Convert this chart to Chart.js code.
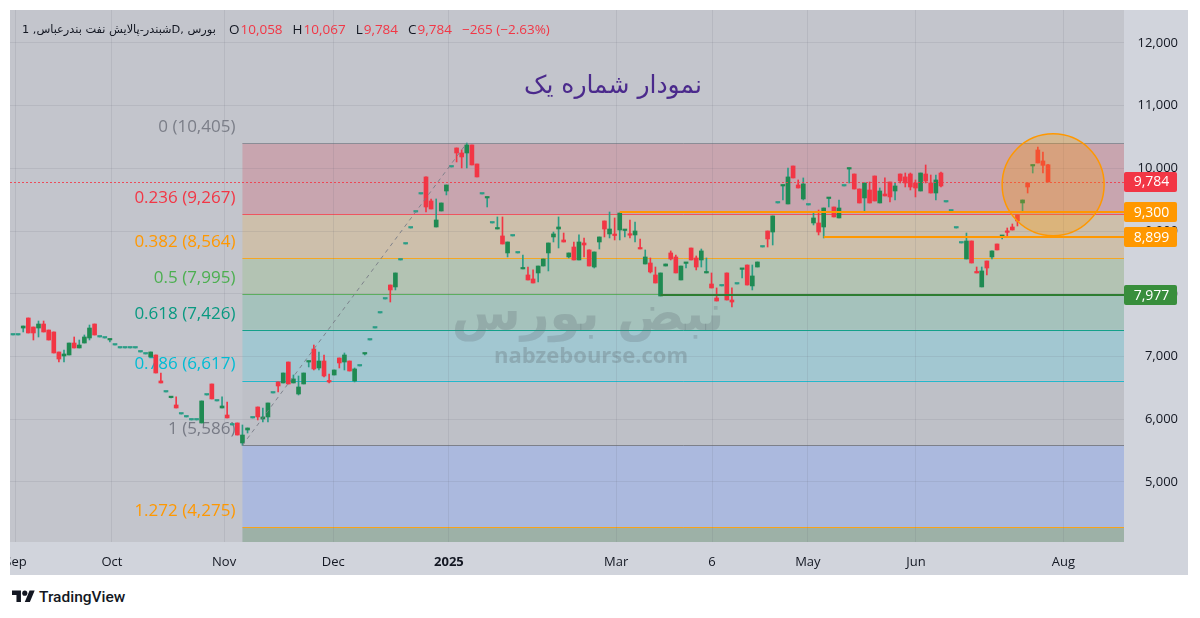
<!DOCTYPE html>
<html>
<head>
<meta charset="utf-8">
<script src="https://cdn.jsdelivr.net/npm/chart.js@4.4.1/dist/chart.umd.min.js"></script>
<style>
  body { margin: 0; background: #ffffff; width: 1200px; height: 618px; position: relative; overflow: hidden; }
  #wrap { position: absolute; left: 10px; top: 10px; width: 1178px; height: 565px; background: #d1d4dc; }
  #brand { position: absolute; left: 12px; top: 588px; height: 18px; display: flex; align-items: center; gap: 4px;
           color: #131722; font: 500 15.5px Roboto, sans-serif; }
</style>
</head>
<body>
<div id="wrap"><canvas id="chart" width="1168" height="565"></canvas></div>
<div id="brand">
  <svg width="23" height="18" viewBox="0 0 36 28"><path d="M14 22H7V11H0V4h14v18zM28 22h-8l7.5-18h8L28 22z" fill="#131722"/><circle cx="20" cy="8" r="4" fill="#131722"/></svg>
  <span>TradingView</span>
</div>
<script>
// daily candles, 1D
const opens = [7344,7344,7455,7615,7471,7455,7519,7423,7392,7073,
  7009,7025,7216,7137,7216,7296,7519,7312,7296,7265,
  7184,7137,7137,7137,7137,7073,7041,6993,7025,6611,
  6435,6345,6228,6084,6037,5989,5989,5941,6387,6563,
  6292,6180,6068,5909,5941,5622,5829,6021,6196,6005,
  6037,6419,6595,6579,6913,6579,6403,6563,6913,7121,
  6818,6929,6611,6706,6977,6913,6929,6611,6850,7041,
  7264,7455,7695,7918,8141,8110,8540,8795,9050,9305,
  9592,9864,9481,9066,9321,9640,10023,10326,10246,10246,
  10374,10071,9592,9529,9130,9034,8923,8652,8923,8652,
  8397,8301,8237,8333,8444,8652,8907,9034,8859,8588,
  8747,8540,8811,8700,8428,8827,9162,8955,8939,9018,
  9010,8939,8939,8731,8476,8492,8301,7966,8444,8652,
  8588,8221,8485,8731,8572,8540,8333,8157,7934,8126,
  8333,7902,8157,8390,8460,8126,8428,8747,9002,8986,
  9449,9720,9433,10039,9736,9513,9417,9130,9130,9066,
  9520,9385,9210,9720,9990,9911,9672,9529,9656,9879,
  9449,9592,9784,9640,9911,9864,9911,9768,9640,9911,
  9768,9608,9927,9465,9321,9050,8811,8556,8843,8349,
  8110,8524,8588,8795,8915,8986,9066,9258,9449,9768,
  10039,10294,10119,10058];
const highs = [7344,7344,7487,7615,7471,7567,7567,7423,7392,7073,
  7105,7216,7312,7264,7344,7503,7519,7312,7296,7280,
  7184,7137,7137,7137,7137,7073,7041,7073,7025,6738,
  6435,6356,6356,6084,6037,5989,5989,6292,6387,6563,
  6292,6356,6276,5909,5941,5909,5861,6021,6196,6180,
  6260,6419,6595,6738,6913,6706,6690,6738,6929,7184,
  7073,7025,6722,6786,6977,7057,6929,6818,6850,7057,
  7264,7455,7695,7918,8141,8333,8540,8795,9050,9305,
  9592,9864,9513,9513,9449,9736,10023,10326,10294,10405,
  10374,10071,9592,9545,9130,9226,9226,8827,8923,8652,
  8620,8428,8381,8444,8556,8811,8986,9226,8970,8652,
  8827,8939,8891,8700,8668,8907,9162,9305,9210,9289,
  9018,9178,9146,8875,8700,8572,8428,8333,8476,8684,
  8620,8444,8492,8731,8604,8715,8572,8333,8094,8126,
  8333,8094,8157,8397,8460,8460,8508,8747,9002,9242,
  9449,9736,10007,10039,9816,9848,9417,9289,9337,9369,
  9529,9385,9497,9720,10007,9911,9672,9768,9784,9879,
  9688,9848,9784,9768,9911,9927,9927,9816,9927,10055,
  9895,9895,9943,9465,9321,9050,8811,8970,8843,8428,
  8428,8524,8684,8795,8923,9050,9114,9258,9497,9768,
  10055,10342,10262,10067];
const lows = [7344,7344,7392,7376,7264,7312,7392,7264,7057,6913,
  6913,7025,7137,7137,7216,7264,7344,7312,7296,7232,
  7184,7137,7137,7137,7137,7073,7041,6993,6738,6579,
  6435,6340,6180,6084,6037,5989,5989,5941,6387,6324,
  6292,6180,6021,5909,5749,5586,5781,6021,5989,5957,
  5957,6419,6435,6579,6563,6579,6387,6563,6834,6786,
  6786,6674,6579,6706,6818,6786,6770,6595,6850,7025,
  7264,7455,7695,7918,7870,8062,8540,8795,9050,9305,
  9592,9305,9353,9066,9321,9577,10023,10103,10007,10007,
  10055,9864,9592,9385,9130,9034,8795,8588,8923,8652,
  8397,8221,8173,8189,8444,8365,8827,8731,8827,8572,
  8540,8540,8588,8444,8412,8715,8907,8891,8859,8859,
  8907,8891,8827,8715,8476,8333,8173,7966,8444,8540,
  8333,8221,8412,8540,8381,8428,8333,8094,7886,8126,
  7902,7790,8157,8253,8141,8062,8428,8747,8747,8779,
  9449,9497,9433,9848,9688,9497,9417,9098,8939,8891,
  9385,9226,9210,9720,9768,9672,9449,9305,9449,9481,
  9449,9561,9465,9497,9768,9704,9656,9545,9640,9768,
  9608,9497,9704,9465,9321,9050,8811,8556,8492,8333,
  8110,8301,8556,8700,8875,8907,9018,9082,9321,9608,
  9927,10087,9927,9784];
const closes = [7344,7344,7487,7376,7376,7519,7392,7264,7057,6961,
  7041,7216,7137,7184,7312,7455,7344,7312,7296,7280,
  7184,7137,7137,7137,7137,7073,7041,7073,6738,6579,
  6435,6356,6180,6084,6037,5989,5989,6292,6387,6324,
  6292,6212,6021,5909,5749,5749,5861,6021,6037,6037,
  6260,6419,6531,6738,6563,6643,6515,6738,6929,6802,
  6929,6690,6595,6786,6898,7025,6770,6802,6850,7057,
  7264,7455,7695,7918,8062,8333,8540,8795,9050,9305,
  9592,9385,9353,9178,9449,9736,10023,10246,10183,10374,
  10055,9864,9592,9545,9130,9050,8795,8827,8923,8652,
  8412,8221,8173,8444,8556,8811,8955,9066,8827,8652,
  8540,8827,8779,8444,8668,8907,9034,9034,8930,9289,
  9018,8935,9002,8715,8588,8349,8173,8333,8476,8556,
  8333,8444,8492,8540,8428,8684,8349,8094,7886,8126,
  7902,7870,8157,8397,8141,8285,8508,8747,8875,9242,
  9449,9736,9864,9848,9688,9752,9417,9210,8986,9369,
  9529,9226,9369,9720,10007,9672,9449,9768,9449,9481,
  9640,9561,9545,9720,9800,9768,9704,9688,9927,9800,
  9608,9816,9720,9465,9321,9050,8811,8843,8492,8333,
  8365,8412,8684,8700,8923,8980,9018,9162,9497,9704,
  10055,10087,10049,9784];
const candleIdx = opens.map((_, i) => i);

const timeTickIdx = [0.5, 19.4, 41.4, 62.8, 85.5, 118.3, 137.1, 155.9, 177.1, 206];
const timeTickLabels = ['Sep', 'Oct', 'Nov', 'Dec', '2025', 'Mar', '6', 'May', 'Jun', 'Aug'];
const priceTicks = [5000, 6000, 7000, 8000, 9000, 10000, 11000, 12000];

// fibonacci retracement anchors (low candle -> high candle)
const fibLowIdx = 45, fibLow = 5586;
const fibHighIdx = 89, fibHigh = 10405;
const fibLevels = [0, 0.236, 0.382, 0.5, 0.618, 0.786, 1, 1.272];

// horizontal levels drawn by hand
const levelPrices = [9300, 8899, 7977];
const levelStartIdx = [119, 159, 127];
const lastPrice = 9784;

// highlight circle
const circleCenterIdx = 204, circleCenterPrice = 9740, circleEdgeIdx = 194;

const fibLineColors = ['#8a8d96', '#ee5560', '#f5a623', '#5cae5f', '#14a08a', '#23b8cc', '#7d808a', '#f7a21b'];
const fibTextColors = ['#7b7e88', '#f23645', '#ff9800', '#4caf50', '#089981', '#00bcd4', '#787b86', '#ff9800'];
const fibZoneColors = ['#c8a5af', '#cdbfab', '#b3c3b3', '#a5c2bc', '#a2c7d1', '#bec0c7', '#abb9de', '#9db1a7'];
const levelColors = ['#ff9800', '#ff9800', '#2e7d32'];
const boxColors = ['#f23645', '#ff9800', '#ff9800', '#388e3c'];

const upBody = '#1f8a52', upFlat = '#2a9d86', downBody = '#f23645';

function fibPrice(r) { return fibHigh - r * (fibHigh - fibLow); }
function fmt(v) { return v.toLocaleString('en-US'); }

const tvPlugin = {
    id: 'tvDraw',
    beforeDraw(chart) {
        const { ctx, chartArea: a } = chart;
        const xs = chart.scales.x, ys = chart.scales.y;
        ctx.save();
        ctx.fillStyle = '#d1d4dc';
        ctx.fillRect(0, 0, chart.width, chart.height);
        ctx.fillStyle = '#c3c5cc';
        ctx.fillRect(a.left, a.top, a.width, a.height);
        ctx.beginPath();
        ctx.rect(a.left, a.top, a.width, a.height);
        ctx.clip();
        const x0 = xs.getPixelForValue(fibLowIdx);
        const ps = fibLevels.map(fibPrice);
        ps.forEach((p, i) => {
            const t = ys.getPixelForValue(p);
            const b = i < ps.length - 1 ? ys.getPixelForValue(ps[i + 1]) : a.bottom;
            ctx.fillStyle = fibZoneColors[i];
            ctx.fillRect(x0, t, a.right - x0, b - t);
        });
        ps.forEach((p, i) => {
            const yy = Math.round(ys.getPixelForValue(p)) + 0.5;
            ctx.strokeStyle = fibLineColors[i];
            ctx.lineWidth = 1;
            ctx.beginPath();
            ctx.moveTo(x0, yy);
            ctx.lineTo(a.right, yy);
            ctx.stroke();
        });
        ctx.restore();
    },
    beforeDatasetsDraw(chart) {
        const { ctx } = chart;
        const xs = chart.scales.x, ys = chart.scales.y;
        ctx.save();
        // watermark
        ctx.fillStyle = 'rgba(95,110,115,0.26)';
        ctx.textAlign = 'center';
        ctx.textBaseline = 'middle';
        ctx.font = 'bold 50px "DejaVu Sans"';
        ctx.fillText('نبض بورس', 578, 307);
        ctx.font = 'bold 22px "Open Sans"';
        ctx.fillStyle = 'rgba(95,110,115,0.32)';
        ctx.fillText('nabzebourse.com', 581, 347);
        // fib labels
        const x0 = xs.getPixelForValue(fibLowIdx);
        ctx.font = '17px "Open Sans"';
        ctx.textAlign = 'right';
        fibLevels.forEach((r, i) => {
            const p = fibPrice(r);
            ctx.fillStyle = fibTextColors[i];
            ctx.fillText(r + ' (' + fmt(Math.floor(p)) + ')', x0 - 7, ys.getPixelForValue(p) - 16);
        });
        ctx.restore();
    },
    afterDraw(chart) {
        const { ctx, chartArea: a } = chart;
        const xs = chart.scales.x, ys = chart.scales.y;
        ctx.save();
        ctx.beginPath();
        ctx.rect(a.left, a.top, a.width, a.height);
        ctx.clip();

        // fib trend line
        ctx.strokeStyle = 'rgba(120,123,134,0.9)';
        ctx.lineWidth = 1;
        ctx.setLineDash([4, 4]);
        ctx.beginPath();
        ctx.moveTo(xs.getPixelForValue(fibLowIdx), ys.getPixelForValue(fibLow));
        ctx.lineTo(xs.getPixelForValue(fibHighIdx), ys.getPixelForValue(fibHigh));
        ctx.stroke();

        // last price dotted line
        ctx.strokeStyle = 'rgba(242,54,69,0.85)';
        ctx.setLineDash([2, 2]);
        const yy = Math.round(ys.getPixelForValue(lastPrice)) + 0.5;
        ctx.beginPath();
        ctx.moveTo(a.left, yy);
        ctx.lineTo(a.right, yy);
        ctx.stroke();
        ctx.setLineDash([]);

        // horizontal levels
        levelPrices.forEach((p, i) => {
            const ly = Math.round(ys.getPixelForValue(p));
            ctx.strokeStyle = levelColors[i];
            ctx.lineWidth = 2;
            ctx.beginPath();
            ctx.moveTo(xs.getPixelForValue(levelStartIdx[i]), ly);
            ctx.lineTo(a.right, ly);
            ctx.stroke();
        });

        // circle
        const cx = xs.getPixelForValue(circleCenterIdx), cy = ys.getPixelForValue(circleCenterPrice);
        const rr = Math.abs(cx - xs.getPixelForValue(circleEdgeIdx));
        ctx.beginPath();
        ctx.arc(cx, cy, rr, 0, Math.PI * 2);
        ctx.fillStyle = 'rgba(255,152,0,0.28)';
        ctx.fill();
        ctx.strokeStyle = '#ff9800';
        ctx.lineWidth = 1.5;
        ctx.stroke();
        ctx.restore();

        // header legend
        ctx.save();
        ctx.textBaseline = 'middle';
        ctx.textAlign = 'left';
        ctx.fillStyle = '#131722';
        const symText = 'شبندر-پالایش نفت بندرعباس, 1D, بورس';
        ctx.font = '12px "DejaVu Sans"';
        const fs = Math.min(12.5, 12 * 194 / ctx.measureText(symText).width);
        ctx.font = fs.toFixed(2) + 'px "DejaVu Sans"';
        ctx.fillText(symText, 12, 20);
        const n = closes.length - 1;
        const chg = closes[n] - closes[n - 1];
        const pct = Math.trunc(Math.abs(chg) / closes[n - 1] * 10000) / 100;
        const parts = [['O', opens[n]], ['H', highs[n]], ['L', lows[n]], ['C', closes[n]]];
        ctx.font = '13.5px "Open Sans"';
        let hx = 219;
        parts.forEach(([k, v]) => {
            ctx.fillStyle = '#131722';
            ctx.fillText(k, hx, 20);
            hx += ctx.measureText(k).width + 1;
            ctx.fillStyle = '#f23645';
            const s = fmt(v);
            ctx.fillText(s, hx, 20);
            hx += ctx.measureText(s).width + 10;
        });
        ctx.fillStyle = '#f23645';
        const sign = chg < 0 ? '\u2212' : '+';
        ctx.fillText(sign + Math.abs(chg) + ' (' + sign + pct.toFixed(2) + '%)', hx, 20);

        // title
        ctx.textAlign = 'center';
        ctx.fillStyle = '#4b2a8c';
        ctx.font = '25px "DejaVu Sans"';
        ctx.fillText('نمودار شماره یک', 603, 76);

        // price boxes on the right axis
        const boxPrices = [lastPrice].concat(levelPrices);
        ctx.font = '14px "Open Sans"';
        boxPrices.forEach((p, i) => {
            const by = ys.getPixelForValue(p);
            ctx.fillStyle = boxColors[i];
            ctx.beginPath();
            ctx.roundRect(a.right, Math.round(by) - 10, 53, 20, 2);
            ctx.fill();
            ctx.fillStyle = '#ffffff';
            ctx.fillText(fmt(p), a.right + 27.5, by + 0.5);
        });
        ctx.restore();
    }
};

Chart.defaults.font.family = '"Open Sans", sans-serif';

new Chart(document.getElementById('chart'), {
    type: 'bar',
    data: {
        datasets: [{
            label: 'body',
            data: candleIdx.map(i => ({ x: i, y: [opens[i], closes[i]] })),
            backgroundColor: candleIdx.map(i => closes[i] > opens[i] ? upBody : (closes[i] === opens[i] ? upFlat : downBody)),
            barThickness: 4,
            minBarLength: 1.5,
            grouped: false
        }, {
            label: 'wick',
            data: candleIdx.map(i => ({ x: i, y: [lows[i], highs[i]] })),
            backgroundColor: candleIdx.map(i => closes[i] >= opens[i] ? upFlat : downBody),
            barThickness: 1,
            grouped: false
        }]
    },
    options: {
        responsive: false,
        animation: false,
        devicePixelRatio: 1,
        layout: { padding: 0 },
        plugins: { legend: { display: false }, tooltip: { enabled: false } },
        scales: {
            x: {
                type: 'linear',
                min: -0.59,
                max: 217.9,
                offset: false,
                afterFit(s) { s.height = 33; s.paddingLeft = 0; s.paddingRight = 0; },
                afterBuildTicks(s) { s.ticks = timeTickIdx.map(v => ({ value: v })); },
                ticks: {
                    autoSkip: false,
                    maxRotation: 0,
                    padding: 12,
                    color: '#131722',
                    font: c => ({ size: 13, weight: timeTickLabels[c.index] === '2025' ? 'bold' : 'normal' }),
                    callback: (v, i) => timeTickLabels[i]
                },
                grid: { color: 'rgba(100,104,115,0.13)', drawTicks: false, offset: false },
                border: { display: false }
            },
            y: {
                type: 'linear',
                position: 'right',
                min: 4043,
                max: 12526,
                afterFit(s) { s.width = 54; s.paddingTop = 0; s.paddingBottom = 0; },
                afterBuildTicks(s) { s.ticks = priceTicks.map(v => ({ value: v })); },
                ticks: {
                    padding: 11,
                    crossAlign: 'far',
                    color: '#131722',
                    font: { size: 13 },
                    callback: v => fmt(v)
                },
                grid: { color: 'rgba(100,104,115,0.13)', drawTicks: false },
                border: { display: false }
            }
        }
    },
    plugins: [tvPlugin]
});
</script>
</body>
</html>
